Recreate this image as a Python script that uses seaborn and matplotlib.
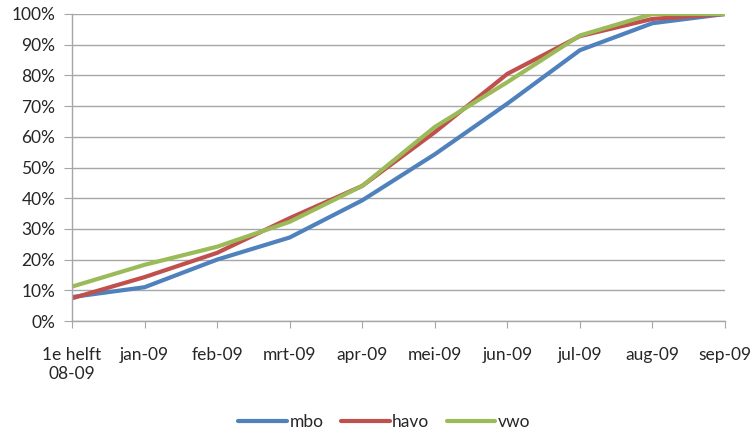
import numpy as np
import pandas as pd
from matplotlib import pyplot as plt
from matplotlib.ticker import PercentFormatter
import seaborn as sns

categories = ['1e helft\n08-09', 'jan-09', 'feb-09', 'mrt-09', 'apr-09',
              'mei-09', 'jun-09', 'jul-09', 'aug-09', 'sep-09']
mbo = [7.8, 11.0, 20.0, 27.2, 39.3, 54.3, 70.8, 88.2, 97.0, 100.0]
havo = [7.4, 14.3, 22.2, 33.5, 44.0, 61.5, 80.5, 92.8, 98.4, 100.0]
vwo = [11.2, 18.3, 24.2, 32.3, 44.0, 63.2, 77.8, 93.0, 100.0, 100.0]
series_names = ['mbo', 'havo', 'vwo']
colors = ['#4F81BD', '#C0504D', '#9BBB59']

df = pd.DataFrame({'categorie': categories, 'mbo': mbo, 'havo': havo, 'vwo': vwo})
df_melt = df.melt(id_vars='categorie', var_name='niveau', value_name='aandeel')

sns.set_style('white')
plt.rcParams['font.family'] = ['Lato', 'DejaVu Sans']

fig = plt.figure(figsize=(7.56, 4.33), dpi=100)
ax = fig.add_axes([72 / 756, 1 - 321 / 433, (725 - 72) / 756, (321 - 14) / 433])

sns.lineplot(data=df_melt, x='categorie', y='aandeel', hue='niveau',
             hue_order=series_names, palette=colors, sort=False,
             linewidth=3.0, ax=ax)

ax.set_xlim(0, len(categories) - 1)
ax.set_ylim(0, 100)
ax.set_yticks(np.arange(0, 101, 10))
ax.yaxis.set_major_formatter(PercentFormatter(decimals=0))
ax.grid(axis='y', color='#A6A6A6', linewidth=1)
ax.set_axisbelow(True)
for side in ['top', 'right']:
    ax.spines[side].set_visible(False)
for side in ['left', 'bottom']:
    ax.spines[side].set_color('#A6A6A6')
    ax.spines[side].set_linewidth(1)
ax.tick_params(axis='y', length=6, color='#A6A6A6', labelsize=12.5,
               labelcolor='#262626', pad=6, left=True)
ax.tick_params(axis='x', length=5, color='#A6A6A6', labelsize=12.5,
               labelcolor='#262626', pad=14, bottom=True, direction='out')
ax.set_xlabel('')
ax.set_ylabel('')

handles, labels = ax.get_legend_handles_labels()
ax.legend(handles, labels, loc='center', bbox_to_anchor=(0.5 - 14 / 653, -0.33),
          ncol=3, frameon=False, fontsize=12.5, handlelength=2.8,
          handletextpad=0.15, columnspacing=1.0, labelcolor='#262626',
          borderpad=0.2)

plt.savefig('out.png', dpi=100)
